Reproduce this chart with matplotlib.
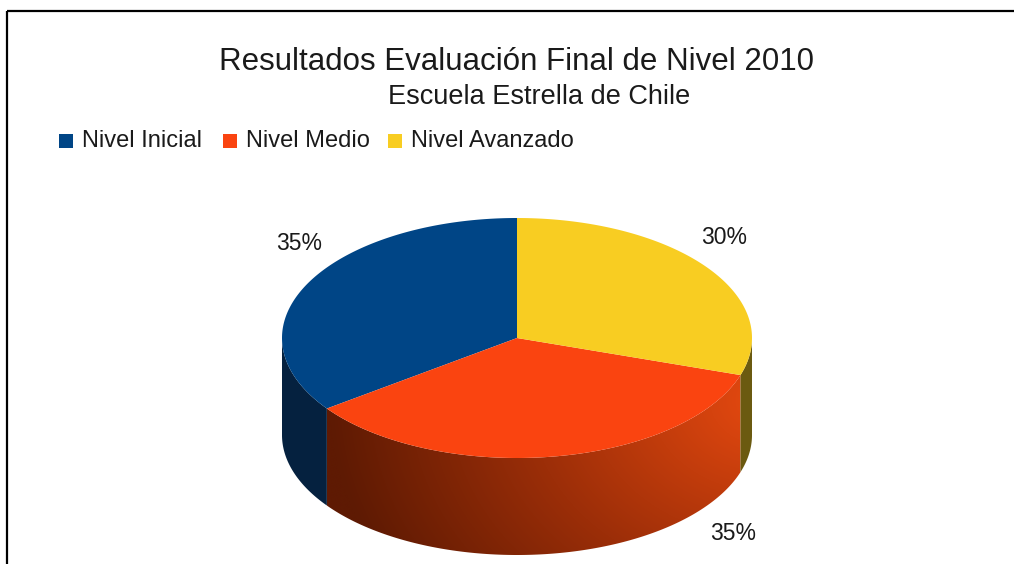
import numpy as np
import matplotlib
matplotlib.use("Agg")
import matplotlib.pyplot as plt
from matplotlib.patches import Polygon, Rectangle
from matplotlib.colors import to_rgb

# ---- data ----
title = "Resultados Evaluación Final de Nivel 2010"
subtitle = "Escuela Estrella de Chile"
categories = ["Nivel Inicial", "Nivel Medio", "Nivel Avanzado"]
values = [35, 35, 30]
pct_labels = ["35%", "35%", "30%"]

# ---- style / layout ----
top_colors = ["#004586", "#fa4410", "#f8cd22"]
side_colors = ["#05213f", None, "#6b5a10"]
plt.rcParams['font.family'] = ['Liberation Sans', 'DejaVu Sans']

W, H = 1018, 564
fig = plt.figure(figsize=(W / 100, H / 100), dpi=100)
ax = fig.add_axes([0, 0, 1, 1])
ax.set_xlim(0, W)
ax.set_ylim(H, 0)
ax.axis("off")

cx, cy, a, b, depth = 517, 338, 235, 120, 97
start = 90.0
total = float(sum(values))
bounds = start + 360.0 * np.concatenate([[0], np.cumsum(values)]) / total


def arc(t1, t2, dy=0.0, n=200):
    t = np.radians(np.linspace(t1, t2, n))
    return np.column_stack([cx + a * np.cos(t), cy - b * np.sin(t) + dy])


# sides (visible front half: 180..360 deg)
for i in range(len(values)):
    t1, t2 = bounds[i], bounds[i + 1]
    for off in (0, 360):
        s1, s2 = max(t1, 180 + off), min(t2, 360 + off)
        if s2 <= s1:
            continue
        top = arc(s1, s2)
        bot = arc(s1, s2, depth)[::-1]
        poly_pts = np.vstack([top, bot])
        if side_colors[i] is not None:
            ax.add_patch(Polygon(poly_pts, closed=True, fc=side_colors[i], ec="none"))
        else:
            patch = Polygon(poly_pts, closed=True, fc="none", ec="none")
            ax.add_patch(patch)
            x0, x1 = poly_pts[:, 0].min(), poly_pts[:, 0].max()
            y0, y1 = poly_pts[:, 1].min(), poly_pts[:, 1].max()
            xs = np.linspace(x0, x1, 400)
            ys = np.linspace(y0, y1, 200)
            X, Y = np.meshgrid(xs, ys)
            d = np.hypot((X - 770) * 1.0, (Y - 400) * 1.3)
            c_bright = np.array(to_rgb("#e84a10"))
            c_mid = np.array(to_rgb("#9c2e08"))
            c_dark = np.array(to_rgb("#5e1a03"))
            u = np.clip(d / 240.0, 0, 1)[..., None]
            v = np.clip((d - 240.0) / 200.0, 0, 1)[..., None]
            img = np.where(d[..., None] < 240,
                           c_bright * (1 - u) + c_mid * u,
                           c_mid * (1 - v) + c_dark * v)
            im = ax.imshow(img, extent=[x0, x1, y1, y0], origin="upper",
                           interpolation="bilinear", aspect="auto", zorder=1)
            im.set_clip_path(patch)

# top faces
for i in range(len(values)):
    pts = np.vstack([[cx, cy], arc(bounds[i], bounds[i + 1])])
    ax.add_patch(Polygon(pts, closed=True, fc=top_colors[i], ec="none", zorder=2))

# percentage labels
label_pos = [(299, 244), (733, 534), (724, 238)]
for txt, (x, y) in zip(pct_labels, label_pos):
    ax.text(x, y, txt, ha="center", va="center", fontsize=16.5, color="#1a1a1a", zorder=3)

# titles
ax.text(517, 62, title, ha="center", va="center", fontsize=22.5, color="#1a1a1a")
ax.text(539, 97, subtitle, ha="center", va="center", fontsize=19.5, color="#1a1a1a")

# legend
sq_x = [59, 223, 388]
for x, c, name in zip(sq_x, top_colors, categories):
    ax.add_patch(Rectangle((x, 134), 14, 14, fc=c, ec="none"))
    ax.text(x + 23, 141, name, ha="left", va="center", fontsize=17, color="#1a1a1a")

# frame lines
ax.plot([7, 1014], [11, 11], color="black", lw=1.6, solid_capstyle="butt")
ax.plot([7, 7], [11, 564], color="black", lw=1.6, solid_capstyle="butt")

fig.savefig("out.png", dpi=100)
